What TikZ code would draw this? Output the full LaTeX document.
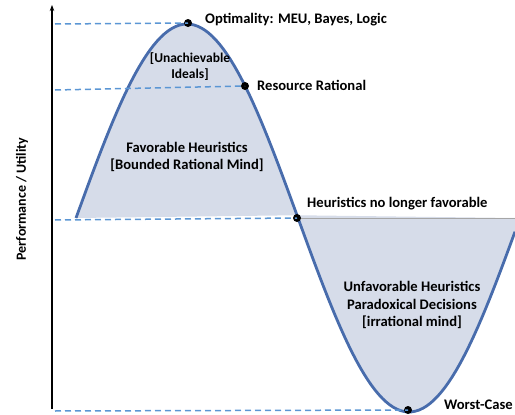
\documentclass[tikz,border=0pt]{standalone}
\usepackage{fontspec}
\setmainfont{Carlito}
\usetikzlibrary{arrows.meta}
\definecolor{curveblue}{RGB}{72,108,172}
\definecolor{dashblue}{RGB}{91,150,212}
\definecolor{lobefill}{RGB}{214,220,233}

\begin{document}
\begin{tikzpicture}
    [
        x=1pt, y=-1pt,
        wave/.style = {draw=curveblue, line width=2.8pt, line join=round},
        lobe/.style = {fill=lobefill, draw=none},
        guide/.style = {draw=dashblue, line width=1.5pt, dash pattern=on 6pt off 4pt},
        dot/.style = {circle, fill=black, inner sep=0pt, minimum size=8pt},
        tag/.style = {font=\bfseries\fontsize{14.6}{17.5}\selectfont, anchor=west, inner sep=0pt},
        inner/.style = {font=\bfseries\fontsize{14.6}{17.5}\selectfont, align=center, inner sep=0pt},
    ]

    \useasboundingbox (0,0) rectangle (515,415);

    % shaded lobes
    \fill[lobe] plot[domain=76:297, samples=60] (\x, {218-194*sin((\x-76)*0.81081)}) -- cycle;
    \fill[lobe] plot[domain=297:515, samples=60] (\x, {218-194*sin((\x-76)*0.81081)}) -- (515,218) -- cycle;
    \draw[gray!70, line width=0.6pt] (297,218) -- (515,218);

    % axis
    \draw[line width=1.2pt, -{Stealth[length=6pt]}] (52,409) -- (52,5);
    \node[rotate=90, font=\bfseries\fontsize{14}{17}\selectfont] (ylab) at (22,199) {Performance / Utility};

    % the wave
    \draw[wave] plot[domain=76:515, samples=120] (\x, {218-194*sin((\x-76)*0.81081)});

    \node[dot] (0d) at (188,23) {};
    \node[dot] (1d) at (245,86) {};
    \node[dot] (2d) at (297,218) {};
    \node[dot] (3d) at (408,410) {};

    \coordinate (0a) at (55,24);
    \coordinate (1a) at (55,90);
    \coordinate (2a) at (55,220);
    \coordinate (3a) at (55,411);

    \draw[guide] (0a) -- (0d.center);
    \draw[guide] (1a) -- (1d.center);
    \draw[guide] (2a) -- (2d.center);
    \draw[guide] (3a) -- (3d.center);

    \node[tag] (0l) at (205,20) {Optimality: MEU, Bayes, Logic};
    \node[tag] (1l) at (257,85) {Resource Rational};
    \node[tag] (2l) at (307,204) {Heuristics no longer favorable};
    \node[tag] (3l) at (444,405) {Worst-Case};

    \node[inner, font=\bfseries\fontsize{13.5}{16}\selectfont] (ideal) at (190,67) {[Unachievable\\Ideals]};
    \node[inner] (good) at (187,157) {Favorable Heuristics\\{[Bounded Rational Mind]}};
    \node[inner] (bad) at (412,305) {Unfavorable Heuristics\\Paradoxical Decisions\\{[irrational mind]}};
\end{tikzpicture}
\end{document}
